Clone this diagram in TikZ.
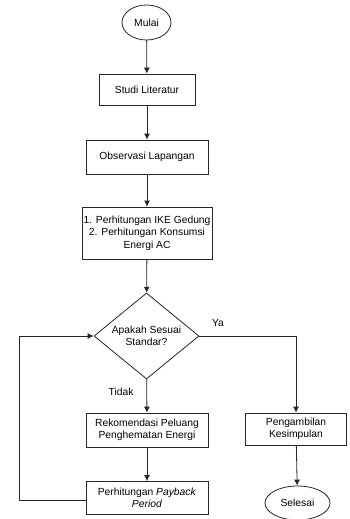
\documentclass[tikz,border=0pt]{standalone}
\usepackage{fontspec}
\setmainfont{Liberation Sans}
\usepackage{tikz}
\usetikzlibrary{arrows.meta,shapes.geometric,positioning,calc}
\tikzset{>={Latex[length=6pt,width=6pt]}}

\begin{document}
\begin{tikzpicture}[x=1pt,y=1pt,
    font=\fontsize{10.3}{12.5}\selectfont,
    every node/.style={draw=black!85,line width=0.8pt,align=center,inner sep=1pt},
    box/.style={rectangle},
    term/.style={ellipse},
    decision/.style={diamond,shape aspect=1.22,inner sep=0pt},
    flow/.style={draw=black!85,line width=0.8pt,->},
    lbl/.style={draw=none}]
                \useasboundingbox (0,0) rectangle (349,-519);
                \node[term,minimum width=49,minimum height=35] (mulai) at (146.5,-22.5) {Mulai};
                \node[box,minimum width=96,minimum height=31] (studi) at (147,-89.5) {Studi Literatur};
                \node[box,minimum width=122,minimum height=34] (obs) at (147,-157) {Observasi Lapangan};
                \node[box,minimum width=130,minimum height=52] (ike) at (147,-233) {1. Perhitungan IKE Gedung\\2. Perhitungan Konsumsi\\Energi AC};
                \node[decision,minimum width=105,minimum height=86] (cek) at (146.5,-336) {Apakah Sesuai\\Standar?};
                \node[box,minimum width=122,minimum height=34] (rek) at (147,-430) {Rekomendasi Peluang\\Penghematan Energi};
                \node[box,minimum width=122,minimum height=33] (pay) at (147,-498) {Perhitungan \textit{Payback}\\\textit{Period}};
                \node[box,minimum width=101,minimum height=32] (ambil) at (296,-429) {Pengambilan\\Kesimpulan};
                \node[term,minimum width=65,minimum height=34] (selesai) at (297.5,-503) {Selesai};
                \node[lbl] (ya) at (218,-323) {Ya};
                \node[lbl] (tidak) at (121,-392) {Tidak};
                \coordinate (balik) at (19,-500);
                \draw[flow] (mulai) -- (studi);
                \draw[flow] (studi) -- (obs);
                \draw[flow] (obs) -- (ike);
                \draw[flow] (ike) -- (cek);
                \draw[flow] (cek) -- (rek);
                \draw[flow] (rek) -- (pay);
                \draw[flow] (cek.east) -| (ambil.north);
                \draw[flow] (ambil) -- (selesai);
                \draw[flow] (pay.west |- balik) -- (balik) |- (cek.west);
            \end{tikzpicture}
\end{document}
